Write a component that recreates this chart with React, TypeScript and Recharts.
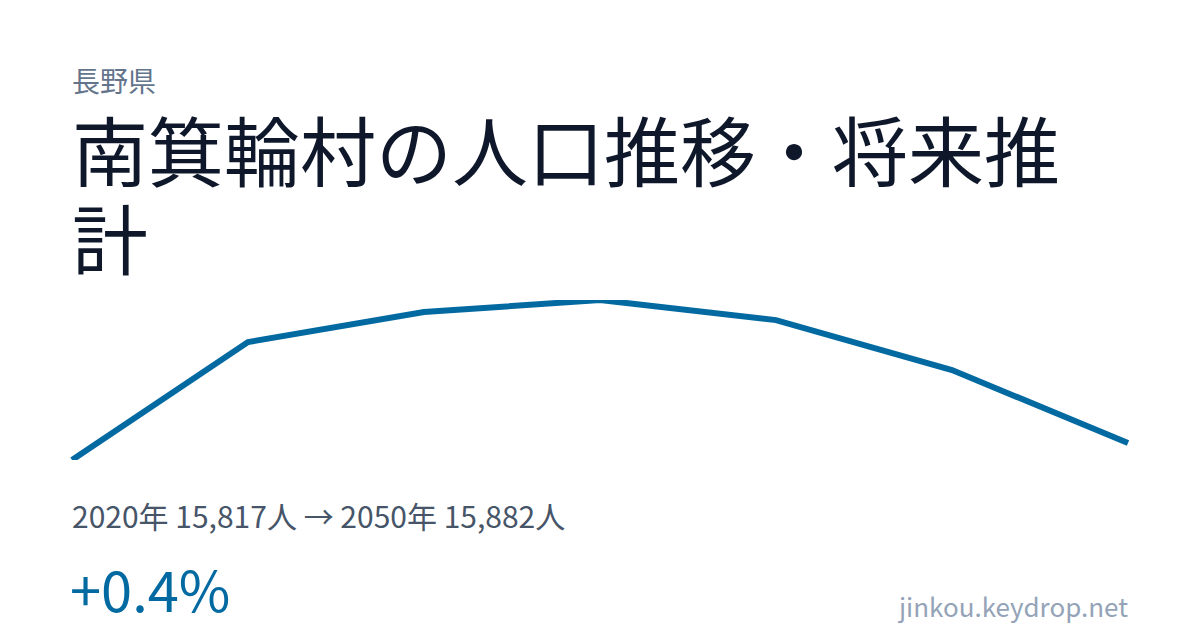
import React from "react";
import { LineChart, Line, XAxis, YAxis } from "recharts";

const years = ["2020", "2025", "2030", "2035", "2040", "2045", "2050"];
const population = [15817, 16268, 16383, 16429, 16352, 16161, 15882];

const data = years.map((year, i) => ({ year, population: population[i] }));

const FONT = '"Noto Sans CJK JP", "Noto Sans", sans-serif';

export default function App() {
  return (
    <div
      style={{
        position: "absolute",
        left: 0,
        top: 0,
        width: 1200,
        height: 630,
        background: "#ffffff",
        fontFamily: FONT,
        overflow: "hidden",
      }}
    >
      <div
        style={{
          position: "absolute",
          left: 72,
          top: 64,
          fontSize: 28,
          lineHeight: "32px",
          color: "#64748b",
        }}
      >
        長野県
      </div>
      <div
        style={{
          position: "absolute",
          left: 72,
          top: 104,
          width: 1060,
          fontSize: 76,
          lineHeight: "88px",
          color: "#0f172a",
        }}
      >
        南箕輪村の人口推移・将来推計
      </div>

      <div style={{ position: "absolute", left: 0, top: 300 }}>
        <LineChart
          width={1200}
          height={160}
          data={data}
          margin={{ top: 0, right: 72, bottom: 0, left: 72 }}
        >
          <XAxis dataKey="year" hide />
          <YAxis hide domain={["dataMin", "dataMax"]} />
          <Line
            type="linear"
            dataKey="population"
            stroke="#0369a1"
            strokeWidth={6}
            dot={false}
            activeDot={false}
            isAnimationActive={false}
          />
        </LineChart>
      </div>

      <div
        style={{
          position: "absolute",
          left: 72,
          top: 495,
          fontSize: 30,
          lineHeight: "40px",
          color: "#475569",
        }}
      >
        2020年 15,817人 → 2050年 15,882人
      </div>
      <div
        style={{
          position: "absolute",
          left: 70,
          top: 552,
          fontSize: 56,
          lineHeight: "72px",
          color: "#0369a1",
        }}
      >
        +0.4%
      </div>
      <div
        style={{
          position: "absolute",
          right: 72,
          top: 588,
          fontSize: 26,
          lineHeight: "36px",
          color: "#94a3b8",
        }}
      >
        jinkou.keydrop.net
      </div>
    </div>
  );
}
